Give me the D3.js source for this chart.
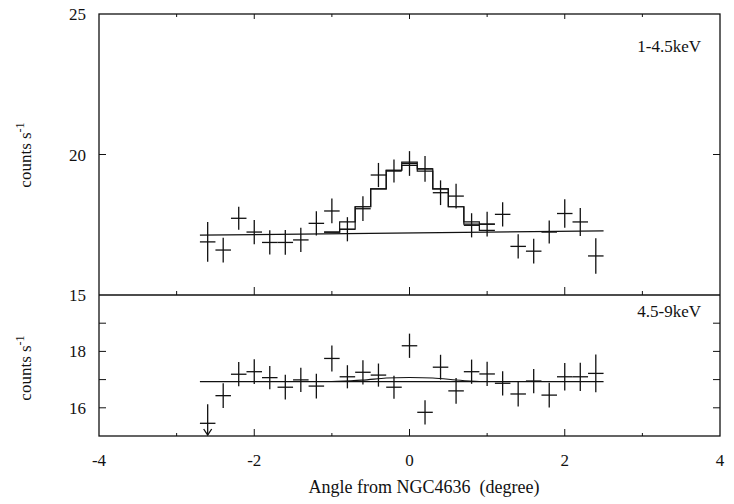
<!DOCTYPE html>
<html>
<head>
<meta charset="utf-8">
<script src="https://cdn.jsdelivr.net/npm/d3@7"></script>
<style>
  body { margin: 0; background: #fff; }
  svg text { font-family: "Liberation Serif", "DejaVu Serif", serif; fill: #111; }
</style>
</head>
<body>
<svg id="chart" width="734" height="504"></svg>
<script>
// bin centres (degree)
var angles = [-2.6,-2.4,-2.2,-2.0,-1.8,-1.6,-1.4,-1.2,-1.0,-0.8,-0.6,-0.4,-0.2,0.0,0.2,0.4,0.6,0.8,1.0,1.2,1.4,1.6,1.8,2.0,2.2,2.4];

// 1-4.5 keV
var softRate = [16.89,16.60,17.73,17.24,16.87,16.87,16.96,17.55,17.99,17.34,18.07,19.27,19.41,19.68,19.49,18.64,18.52,17.48,17.52,17.87,16.73,16.56,17.24,17.90,17.60,16.39];
var softErr  = [0.71,0.44,0.41,0.43,0.43,0.44,0.43,0.43,0.44,0.43,0.44,0.43,0.41,0.44,0.46,0.44,0.44,0.43,0.44,0.43,0.43,0.44,0.41,0.51,0.50,0.63];

// 4.5-9 keV
var hardRate = [15.45,16.43,17.19,17.28,17.07,16.73,16.99,16.77,17.75,17.10,17.26,17.16,16.73,18.20,15.84,17.44,16.60,17.28,17.20,16.87,16.49,16.95,16.45,17.10,17.10,17.22];
var hardErr  = [0.68,0.44,0.43,0.44,0.41,0.44,0.43,0.44,0.46,0.41,0.43,0.41,0.41,0.43,0.43,0.44,0.46,0.43,0.43,0.43,0.44,0.43,0.44,0.49,0.50,0.67];
var hardUpper = [-2.6];   // drawn with a downward arrow

// model curves
var baseX = [-2.7, 2.5];
var softBase = [17.13, 17.28];
var hardBase = [16.93, 16.93];
var modelBins = [-1.0,-0.8,-0.6,-0.4,-0.2,0.0,0.2,0.4,0.6,0.8,1.0];
var softModel  = [17.24,17.60,18.14,18.78,19.44,19.73,19.49,18.78,18.14,17.60,17.30];
var softModel2 = [17.24,17.34,18.14,18.78,19.44,19.61,19.41,18.78,18.14,17.52,17.52];
var hardBumpX = [-1.0,-0.6,-0.3,0.0,0.3,0.6,0.9];
var hardBumpY = [16.93,16.97,17.07,17.08,17.07,16.98,16.93];

var xTicks = [-4,-3,-2,-1,0,1,2,3,4];
var xLabels = [-4,-2,0,2,4];
var softTicks = [20];
var softLabels = [15,20,25];
var hardTicks = [16,17,18,19];
var hardLabels = [16,18];

var pLeft = 99, pRight = 720, pTop = 14, pMid = 295, pBottom = 436;
var binHalf = 0.1;

var svg = d3.select("#chart");
var x = d3.scaleLinear().domain([-4, 4]).range([pLeft, pRight]);
var yTop = d3.scaleLinear().domain([15, 25]).range([pMid, pTop]);
var yBot = d3.scaleLinear().domain([15, 20]).range([pBottom, pMid]);

var ink = "#111";

// frame
svg.append("rect")
    .attr("x", pLeft).attr("y", pTop)
    .attr("width", pRight - pLeft).attr("height", pBottom - pTop)
    .attr("fill", "none").attr("stroke", ink).attr("stroke-width", 1.3);
svg.append("line")
    .attr("x1", pLeft).attr("x2", pRight).attr("y1", pMid).attr("y2", pMid)
    .attr("stroke", ink).attr("stroke-width", 1.3);

// x ticks on bottom, separator and top border
function xTickLen(v, big, small) { return v % 2 === 0 ? big : small; }
[[pBottom, -1, 7, 3], [pMid, -1, 8, 4], [pTop, 1, 5, 3]].forEach(function(t) {
    svg.append("g").selectAll("line").data(xTicks.slice(1, -1)).enter().append("line")
        .attr("x1", function(d){ return x(d); })
        .attr("x2", function(d){ return x(d); })
        .attr("y1", t[0])
        .attr("y2", function(d){ return t[0] + t[1] * xTickLen(d, t[2], t[3]); })
        .attr("stroke", ink).attr("stroke-width", 1);
});

svg.append("g").selectAll("text").data(xLabels).enter().append("text")
    .attr("x", function(d){ return x(d); })
    .attr("y", 466)
    .attr("text-anchor", "middle")
    .attr("font-size", 17)
    .text(function(d){ return d; });

// y axes (ticks inward on both sides)
function yTickMarks(scale, ticks) {
    var g = svg.append("g");
    g.selectAll("line.l").data(ticks).enter().append("line")
        .attr("x1", pLeft).attr("x2", pLeft + 7)
        .attr("y1", function(d){ return scale(d); })
        .attr("y2", function(d){ return scale(d); })
        .attr("stroke", ink);
    g.selectAll("line.r").data(ticks).enter().append("line")
        .attr("x1", pRight).attr("x2", pRight - 7)
        .attr("y1", function(d){ return scale(d); })
        .attr("y2", function(d){ return scale(d); })
        .attr("stroke", ink);
}
yTickMarks(yTop, softTicks);
yTickMarks(yBot, hardTicks);

function yTickLabels(scale, labels) {
    svg.append("g").selectAll("text").data(labels).enter().append("text")
        .attr("x", 86)
        .attr("y", function(d){ return scale(d) + 6; })
        .attr("text-anchor", "end")
        .attr("font-size", 17)
        .text(function(d){ return d; });
}
yTickLabels(yTop, softLabels);
yTickLabels(yBot, hardLabels);

// y titles
function yTitle(cy) {
    var t = svg.append("text")
        .attr("transform", "translate(31," + cy + ") rotate(-90)")
        .attr("text-anchor", "middle")
        .attr("font-size", 17);
    t.append("tspan").text("counts s");
    t.append("tspan").attr("dy", -7).attr("font-size", 12).text("-1");
}
yTitle(155);
yTitle(368);

svg.append("text")
    .attr("x", 424).attr("y", 493)
    .attr("text-anchor", "middle")
    .attr("font-size", 18)
    .attr("xml:space", "preserve")
    .style("white-space", "pre")
    .text("Angle from NGC4636  (degree)");

svg.append("text").attr("x", 701).attr("y", 52)
    .attr("text-anchor", "end").attr("font-size", 17).text("1-4.5keV");
svg.append("text").attr("x", 701).attr("y", 317)
    .attr("text-anchor", "end").attr("font-size", 17).text("4.5-9keV");

// models
function baseLine(scale, ys) {
    var line = d3.line()
        .x(function(d){ return x(d[0]); })
        .y(function(d){ return scale(d[1]); });
    svg.append("path")
        .attr("d", line(d3.zip(baseX, ys)))
        .attr("fill", "none").attr("stroke", ink).attr("stroke-width", 1.2);
}
baseLine(yTop, softBase);
baseLine(yBot, hardBase);

function stepModel(vals) {
    var pts = [];
    modelBins.forEach(function(c, i) {
        pts.push([c - binHalf, vals[i]]);
        pts.push([c + binHalf, vals[i]]);
    });
    var line = d3.line()
        .x(function(d){ return x(d[0]); })
        .y(function(d){ return yTop(d[1]); });
    svg.append("path")
        .attr("d", line(pts))
        .attr("fill", "none").attr("stroke", ink).attr("stroke-width", 1.2);
}
stepModel(softModel);
stepModel(softModel2);

var bump = d3.line()
    .x(function(d){ return x(d[0]); })
    .y(function(d){ return yBot(d[1]); })
    .curve(d3.curveBasis);
svg.append("path")
    .attr("d", bump(d3.zip(hardBumpX, hardBumpY)))
    .attr("fill", "none").attr("stroke", ink).attr("stroke-width", 1.1);

// data crosses
function crosses(scale, rate, err, upper) {
    var g = svg.append("g").attr("stroke", ink).attr("stroke-width", 1.3);
    angles.forEach(function(a, i) {
        var isUp = upper.indexOf(a) >= 0;
        g.append("line")
            .attr("x1", x(a - binHalf)).attr("x2", x(a + binHalf))
            .attr("y1", scale(rate[i])).attr("y2", scale(rate[i]));
        g.append("line")
            .attr("x1", x(a)).attr("x2", x(a))
            .attr("y1", scale(rate[i] + err[i]))
            .attr("y2", isUp ? scale(15) - 1 : scale(rate[i] - err[i]));
        if (isUp) {
            var yb = scale(15) - 1;
            g.append("path")
                .attr("d", "M" + (x(a) - 4) + "," + (yb - 6) + "L" + x(a) + "," + yb + "L" + (x(a) + 4) + "," + (yb - 6))
                .attr("fill", "none");
        }
    });
}
crosses(yTop, softRate, softErr, []);
crosses(yBot, hardRate, hardErr, hardUpper);
</script>
</body>
</html>
